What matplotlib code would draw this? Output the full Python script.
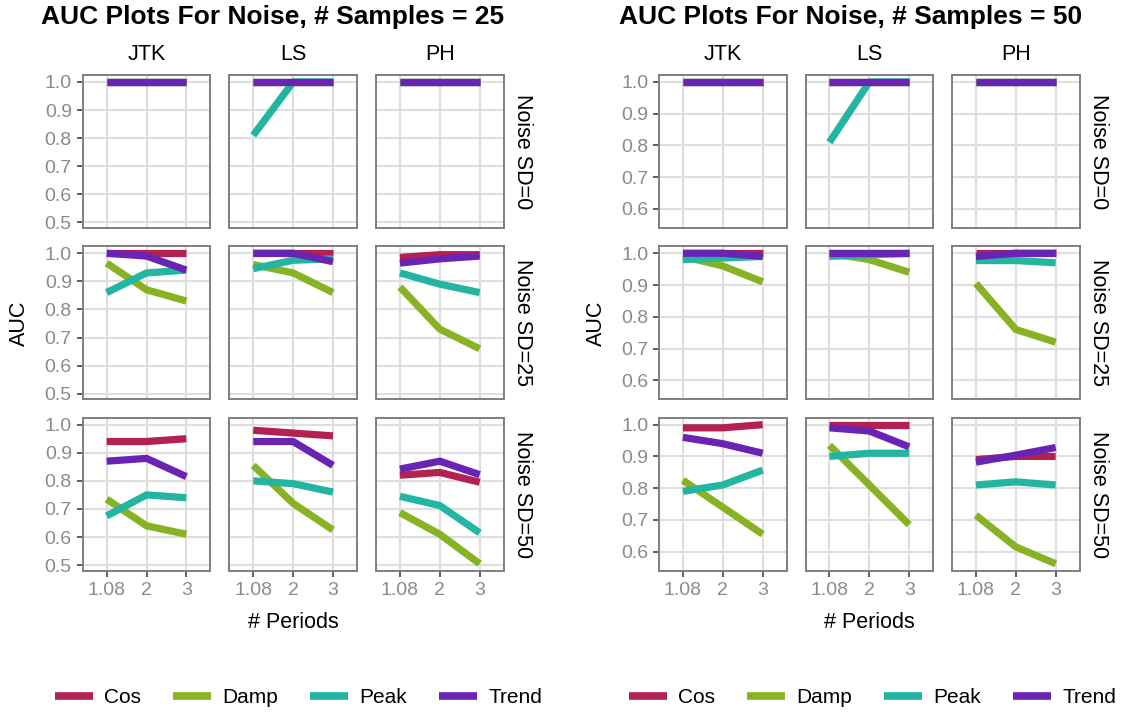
import numpy as np
import matplotlib.pyplot as plt
from matplotlib.lines import Line2D

plt.rcParams['font.family'] = ['Liberation Sans', 'DejaVu Sans']

periods = ['1.08', '2', '3']
methods = ['JTK', 'LS', 'PH']
noise_labels = ['Noise SD=0', 'Noise SD=25', 'Noise SD=50']
series = ['Cos', 'Damp', 'Peak', 'Trend']
colors = ['#B3214E', '#86B224', '#22B5A2', '#6B23B4']

# rows: noise SD 0 / 25 / 50, cols: JTK / LS / PH, values at periods 1.08, 2, 3
# samples = 25
cos_25 = [[[1, 1, 1], [1, 1, 1], [1, 1, 1]],
          [[1, 1, 1], [1, 1, 1], [0.985, 0.995, 0.995]],
          [[0.94, 0.94, 0.95], [0.98, 0.97, 0.96], [0.82, 0.83, 0.795]]]
damp_25 = [[[1, 1, 1], [1, 1, 1], [1, 1, 1]],
           [[0.965, 0.87, 0.83], [0.96, 0.93, 0.86], [0.88, 0.73, 0.66]],
           [[0.735, 0.64, 0.61], [0.855, 0.72, 0.625], [0.687, 0.61, 0.505]]]
peak_25 = [[[1, 1, 1], [0.81, 1, 1], [1, 1, 1]],
           [[0.86, 0.93, 0.94], [0.945, 0.975, 0.98], [0.93, 0.89, 0.86]],
           [[0.675, 0.75, 0.74], [0.80, 0.79, 0.76], [0.745, 0.712, 0.615]]]
trend_25 = [[[1, 1, 1], [1, 1, 1], [1, 1, 1]],
            [[1.0, 0.99, 0.94], [1.0, 1.0, 0.97], [0.965, 0.98, 0.99]],
            [[0.87, 0.88, 0.815], [0.94, 0.94, 0.855], [0.842, 0.87, 0.822]]]

# samples = 50
cos_50 = [[[1, 1, 1], [1, 1, 1], [1, 1, 1]],
          [[1, 1, 1], [1, 1, 1], [1, 1, 1]],
          [[0.99, 0.99, 1.0], [1, 1, 1], [0.89, 0.90, 0.90]]]
damp_50 = [[[1, 1, 1], [1, 1, 1], [1, 1, 1]],
           [[0.99, 0.96, 0.91], [1.0, 0.98, 0.94], [0.905, 0.76, 0.72]],
           [[0.825, 0.74, 0.655], [0.935, 0.81, 0.685], [0.715, 0.615, 0.562]]]
peak_50 = [[[1, 1, 1], [0.81, 1, 1], [1, 1, 1]],
           [[0.98, 0.985, 0.99], [0.99, 0.995, 1.0], [0.977, 0.977, 0.97]],
           [[0.79, 0.81, 0.857], [0.90, 0.91, 0.91], [0.81, 0.82, 0.81]]]
trend_50 = [[[1, 1, 1], [1, 1, 1], [1, 1, 1]],
            [[1.0, 1.0, 0.99], [1, 1, 1], [0.99, 1.0, 1.0]],
            [[0.96, 0.94, 0.91], [0.99, 0.98, 0.93], [0.882, 0.904, 0.928]]]

W, H = 1128, 714
fig = plt.figure(figsize=(W / 100, H / 100), dpi=100)

row_top = [75, 246.3, 417.7]
ph = 153
pw = 127.6


def facet_block(x0s, data, yticks, title, title_x, legend_x):
    vals = np.array(data)
    lo, hi = vals.min(), vals.max()
    pad = (hi - lo) * 0.05
    x = np.arange(1, len(periods) + 1)
    for r in range(3):
        for c in range(3):
            ax = fig.add_axes([x0s[c] / W, 1 - (row_top[r] + ph) / H, pw / W, ph / H])
            ax.set_axisbelow(True)
            ax.grid(True, color='#dedede', lw=1.5)
            for s in range(len(series)):
                ax.plot(x, data[s][r][c], color=colors[s], lw=5.2,
                        solid_capstyle='butt', solid_joinstyle='round')
            ax.set_xlim(0.4, 3.6)
            ax.set_ylim(lo - pad, hi + pad)
            ax.set_xticks(x)
            ax.set_yticks(yticks)
            ax.set_xticklabels(periods)
            ax.set_yticklabels(['%.1f' % t for t in yticks])
            for sp in ax.spines.values():
                sp.set_color('#7f7f7f')
                sp.set_linewidth(1.4)
            ax.tick_params(length=4.3, width=1.1, color='#333333',
                           labelcolor='#8a8a8a', labelsize=14, pad=3.5)
            if c > 0:
                ax.tick_params(axis='y', left=False, labelleft=False)
            if r < 2:
                ax.tick_params(axis='x', bottom=False, labelbottom=False)
            if r == 0:
                fig.text((x0s[c] + pw / 2) / W, 1 - 55 / H, methods[c],
                         ha='center', va='center', fontsize=15.5)
            if c == 2:
                fig.text((x0s[c] + pw + 19) / W, 1 - (row_top[r] + ph / 2) / H,
                         noise_labels[r], rotation=-90, ha='center', va='center',
                         fontsize=15.5)
    fig.text(title_x / W, 1 - 17 / H, title, ha='center', va='center',
             fontsize=19, fontweight='bold')
    fig.text((x0s[0] - 63) / W, 1 - 323 / H, 'AUC', rotation=90,
             ha='center', va='center', fontsize=15.5)
    fig.text((x0s[0] + x0s[2] + pw) / 2 / W, 1 - 623 / H, '# Periods',
             ha='center', va='center', fontsize=15.5)
    handles = [Line2D([], [], color=col, lw=5.5, solid_capstyle='butt') for col in colors]
    fig.legend(handles, series, ncol=4, loc='center',
               bbox_to_anchor=(legend_x / W, 1 - 697.7 / H), frameon=False,
               fontsize=15, handlelength=1.8, handletextpad=0.55,
               columnspacing=1.55)


facet_block([82.7, 229.3, 376], [cos_25, damp_25, peak_25, trend_25],
            [0.5, 0.6, 0.7, 0.8, 0.9, 1.0],
            'AUC Plots For Noise, # Samples = 25', 273, 298.7)
facet_block([659, 805.5, 952], [cos_50, damp_50, peak_50, trend_50],
            [0.6, 0.7, 0.8, 0.9, 1.0],
            'AUC Plots For Noise, # Samples = 50', 850.7, 872.7)

fig.savefig('out.png', dpi=100, facecolor='white')
